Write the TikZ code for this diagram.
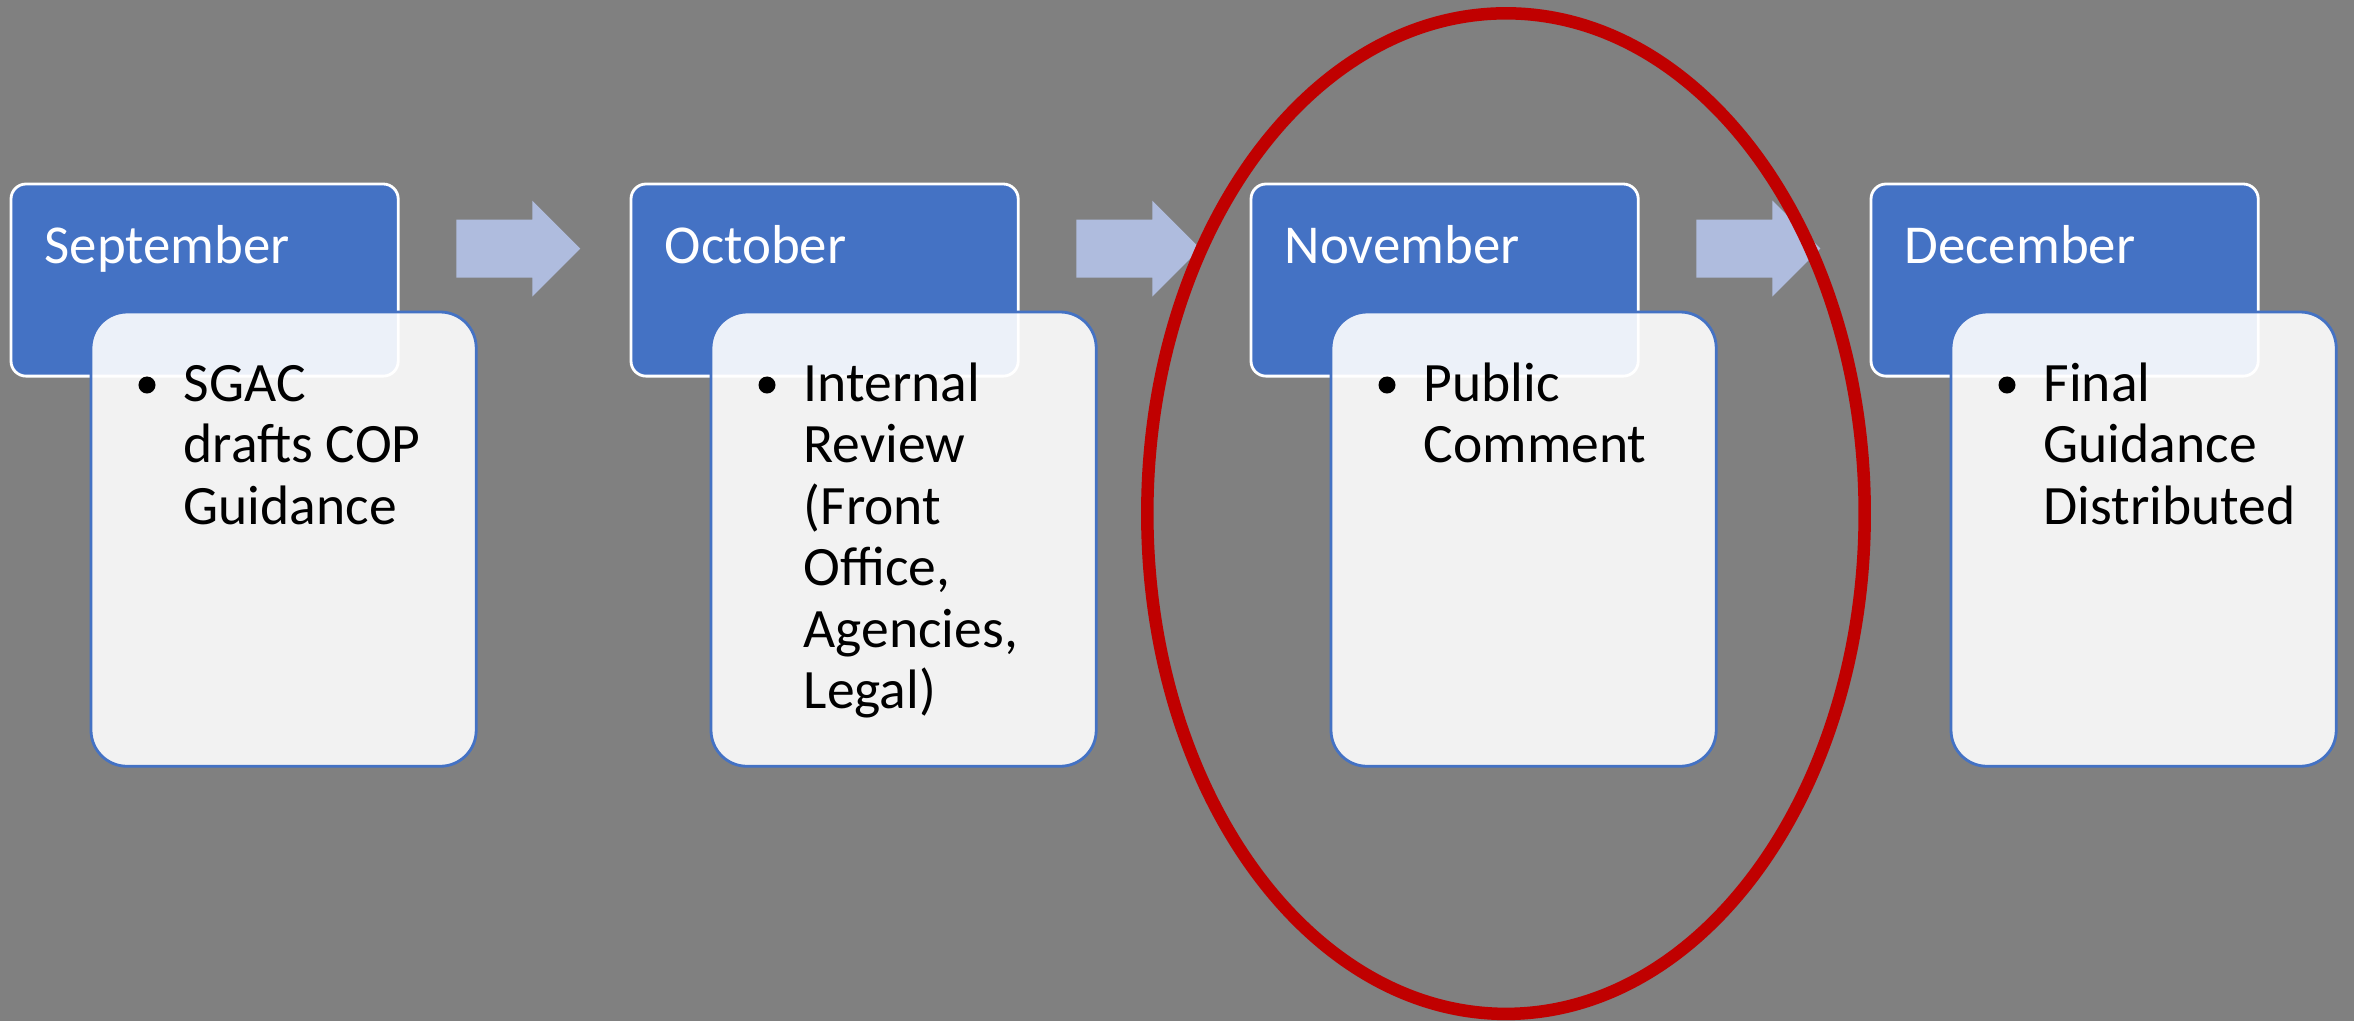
\documentclass[tikz,border=0pt]{standalone}
\usepackage{fontspec}
\setmainfont{Carlito}
\definecolor{slidegray}{RGB}{128,128,128}
\definecolor{accentblue}{RGB}{68,114,196}
\definecolor{arrowblue}{RGB}{175,188,222}
\definecolor{circlered}{RGB}{192,0,0}
\tikzset{
  monthbox/.style={draw=white, line width=.8pt, fill=accentblue, rounded corners=.15cm,
    minimum width=3.87cm, minimum height=1.92cm, anchor=north west, inner sep=0, outer sep=0},
  detailbox/.style={draw=accentblue, line width=.8pt, fill=white, fill opacity=.9,
    rounded corners=.36cm, minimum width=3.85cm, minimum height=4.54cm, anchor=north west,
    inner sep=0, outer sep=0},
  monthname/.style={anchor=base west, inner sep=0, text=white, font=\fontsize{15.6}{18}\selectfont},
  detailtext/.style={anchor=base west, inner sep=0, text width=2.8cm, align=flush left,
    font=\fontsize{15.8}{17.5}\selectfont}
}
\begin{document}
\begin{tikzpicture}[x=.01cm,y=-.01cm]
\fill[slidegray] (0,0) rectangle (2354,1021);
\useasboundingbox (0,0) rectangle (2354,1021);
\foreach \mon/\txt [count=\n from 0] in {September/{SGAC\\drafts COP\\Guidance},
    October/{Internal\\Review\\(Front\\Office,\\Agencies,\\Legal)},
    November/{Public\\Comment},
    December/{Final\\Guidance\\Distributed}}
{
\node[monthbox] (m\n) at (11+620*\n,184) {};
\node[monthname] (t\n) at (44+620*\n,263) {\mon};
\node[detailbox] (d\n) at (91+620*\n,312) {};
\fill (147+620*\n,385) circle (.085cm); % bullet
\node[detailtext] (b\n) at (183+620*\n,401) {\txt};
}
\foreach \n in {0,1,2}
\fill[arrowblue] ([xshift=.58cm,yshift=-.355cm]m\n.north east) -- ++(76,0) -- ++(0,-19)
  -- ++(48,48) -- ++(-48,48) -- ++(0,-19) -- ++(-76,0) -- cycle;
\draw[circlered, line width=.125cm] (1506,513.6) ellipse [x radius=3.585cm, y radius=5cm];
\end{tikzpicture}
\end{document}
